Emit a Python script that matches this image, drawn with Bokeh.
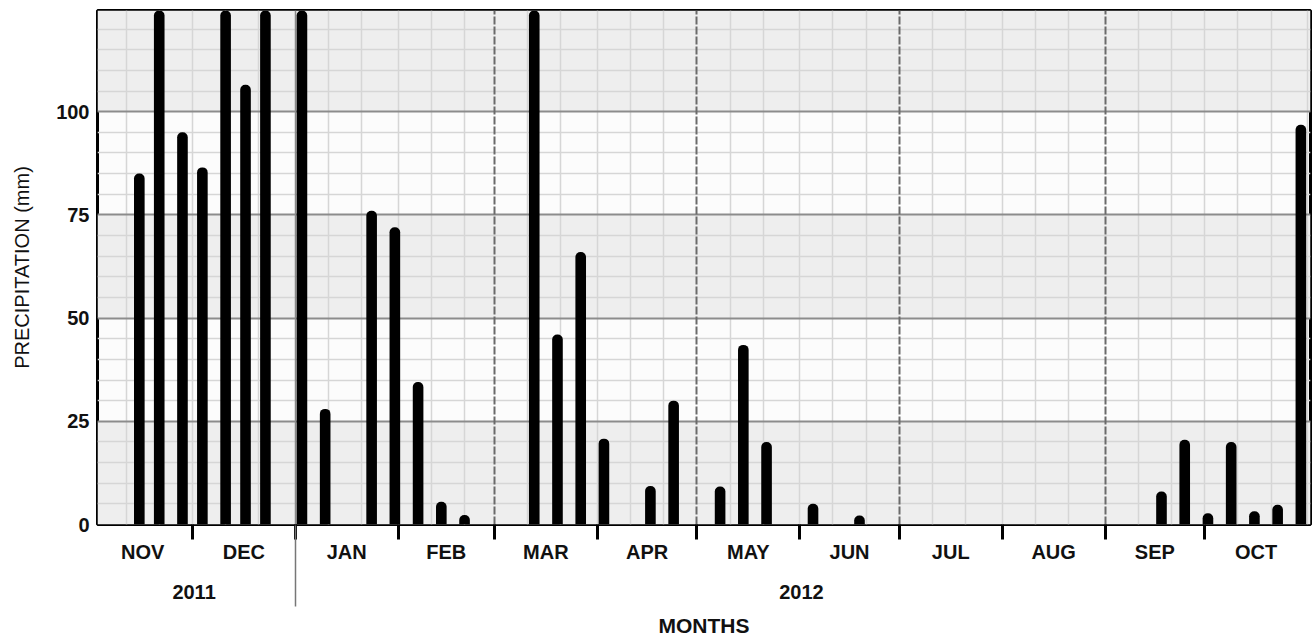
import pandas as pd
from bokeh.plotting import figure
from bokeh.models import Range1d, LinearAxis, FixedTicker, Grid, BoxAnnotation, ColumnDataSource
from bokeh.embed import file_html
from bokeh.resources import INLINE

# ---------------- data ----------------
dates = ["2011-11-15", "2011-11-21", "2011-11-28", "2011-12-04", "2011-12-11", "2011-12-17", "2011-12-23",
         "2012-01-03", "2012-01-10", "2012-01-24", "2012-01-31", "2012-02-07", "2012-02-14", "2012-02-21",
         "2012-03-13", "2012-03-20", "2012-03-27", "2012-04-03", "2012-04-17", "2012-04-24",
         "2012-05-08", "2012-05-15", "2012-05-22", "2012-06-05", "2012-06-19",
         "2012-09-18", "2012-09-25", "2012-10-02", "2012-10-09", "2012-10-16", "2012-10-23", "2012-10-30"]
precip = [85, 140, 95, 86.5, 150, 106.5, 135,
          160, 28, 76, 72, 34.5, 5.5, 2.3,
          145, 46, 66, 20.8, 9.3, 30,
          9.2, 43.5, 20, 5, 2.2,
          8, 20.5, 2.7, 20, 3.2, 4.8, 96.8]

months = ["NOV", "DEC", "JAN", "FEB", "MAR", "APR", "MAY", "JUN", "JUL", "AUG", "SEP", "OCT"]
month_starts = ["2011-11-01", "2011-12-01", "2012-01-01", "2012-02-01", "2012-03-01", "2012-04-01",
                "2012-05-01", "2012-06-01", "2012-07-01", "2012-08-01", "2012-09-01", "2012-10-01",
                "2012-11-01"]
years = ["2011", "2012"]
year_starts = ["2011-11-01", "2012-01-01", "2012-11-01"]
y_ticks = [0, 25, 50, 75, 100]

# ---------------- derived ----------------
origin = pd.Timestamp(month_starts[0])


def day(s):
    return float((pd.Timestamp(s) - origin) / pd.Timedelta(days=1))


xs = [day(d) for d in dates]
bounds = [day(m) for m in month_starts]
mids = [(a + b) / 2 for a, b in zip(bounds[:-1], bounds[1:])]
ybounds = [day(y) for y in year_starts]
ymids = [(a + b) / 2 for a, b in zip(ybounds[:-1], ybounds[1:])]

Y_MAX = 124.5
FONT = "Liberation Sans"
TXT = "#111111"

p = figure(width=1312, height=639, x_range=Range1d(1.4, 366.9), y_range=Range1d(0, Y_MAX),
           output_backend="svg", toolbar_location=None,
           x_axis_location=None, y_axis_location=None,
           min_border_left=97, min_border_right=2, min_border_top=10, min_border_bottom=0,
           background_fill_color="#fcfcfc", border_fill_color="white",
           outline_line_color="black", outline_line_width=3)

p.center = []

# alternating bands
band_edges = y_ticks + [Y_MAX]
for i in range(0, len(band_edges) - 1, 2):
    p.add_layout(BoxAnnotation(bottom=band_edges[i], top=band_edges[i + 1], fill_color="#eeeeee",
                               fill_alpha=1, line_color=None, level="underlay"))

# vertical minor grid (about every 10 days)
minor_x = []
for b in bounds[:-1]:
    minor_x += [b + 10, b + 20]
major_x = [bounds[i] for i in (4, 6, 8, 10)]
year_x = [ybounds[1]]
minor_x += [b for b in bounds if b not in major_x and b not in year_x]
p.add_layout(Grid(dimension=0, ticker=FixedTicker(ticks=minor_x), grid_line_color="#d6d6d6",
                  grid_line_width=1.5))

# horizontal grid
p.add_layout(Grid(dimension=1,
                  ticker=FixedTicker(ticks=y_ticks[1:], minor_ticks=[v for v in range(5, 125, 5) if v % 25]),
                  grid_line_color="#8c8c8c", grid_line_width=2,
                  minor_grid_line_color="#d6d6d6", minor_grid_line_width=1.5))

# dashed vertical major lines every two months
p.add_layout(Grid(dimension=0, ticker=FixedTicker(ticks=major_x), grid_line_color="#6a6a6a",
                  grid_line_width=2, grid_line_dash="8 2"))
# year separator
p.add_layout(Grid(dimension=0, ticker=FixedTicker(ticks=year_x), grid_line_color="#8a8a8a",
                  grid_line_width=1.5))

src = ColumnDataSource(data=dict(x=xs, top=precip))
p.vbar(x="x", top="top", bottom=0, width=3.2, source=src, fill_color="black", line_color=None,
       border_radius=(5, 5, 0, 0))

# y axis
yax = LinearAxis(ticker=FixedTicker(ticks=y_ticks), axis_label="PRECIPITATION (mm)",
                 axis_line_color=None, major_tick_out=0, major_tick_in=0,
                 minor_tick_out=0, minor_tick_in=0, major_label_standoff=8,
                 major_label_text_font=FONT, major_label_text_font_size="20px",
                 major_label_text_font_style="bold", major_label_text_color=TXT,
                 axis_label_text_font=FONT, axis_label_text_font_size="20px",
                 axis_label_text_font_style="normal", axis_label_text_color=TXT,
                 axis_label_standoff=20)
p.add_layout(yax, "left")

# month axis
max_ = LinearAxis(ticker=FixedTicker(ticks=mids, minor_ticks=bounds[1:-1]),
                  major_label_overrides={float(m): n for m, n in zip(mids, months)},
                  axis_line_color=None, major_tick_out=0, major_tick_in=0,
                  minor_tick_out=15, minor_tick_in=0, minor_tick_line_width=3,
                  minor_tick_line_color="black", major_label_standoff=1,
                  major_label_text_font=FONT, major_label_text_font_size="20px",
                  major_label_text_font_style="bold", major_label_text_color=TXT)
p.add_layout(max_, "below")

# year axis
yrax = LinearAxis(ticker=FixedTicker(ticks=ymids, minor_ticks=year_x),
                  major_label_overrides={float(m): n for m, n in zip(ymids, years)},
                  axis_line_color=None, major_tick_out=0, major_tick_in=0,
                  minor_tick_out=41, minor_tick_in=40, minor_tick_line_width=1.5,
                  minor_tick_line_color="#777777", major_label_standoff=-22,
                  major_label_text_font=FONT, major_label_text_font_size="20px",
                  major_label_text_font_style="bold", major_label_text_color=TXT,
                  axis_label="MONTHS", axis_label_standoff=12,
                  axis_label_text_font=FONT, axis_label_text_font_size="21px",
                  axis_label_text_font_style="bold", axis_label_text_color=TXT)
p.add_layout(yrax, "below")

open("out.html", "w").write(file_html(p, INLINE))
